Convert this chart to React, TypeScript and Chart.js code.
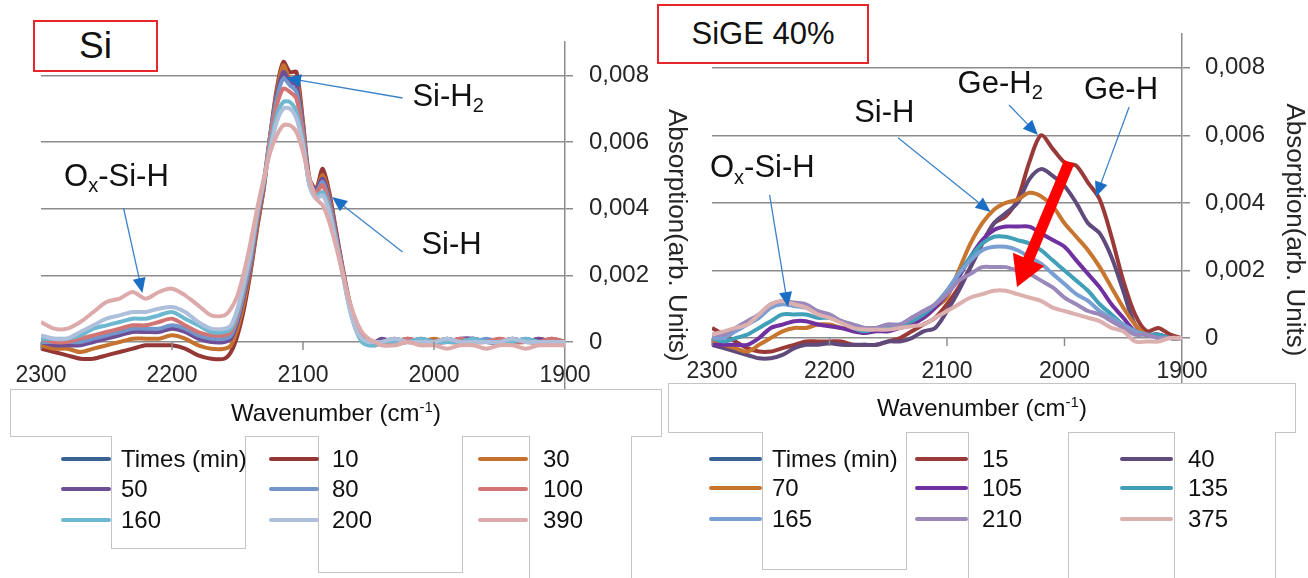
import React, { useEffect, useRef } from "react";
import { Chart, registerables } from "chart.js";
Chart.register(...registerables);

const FONT = '"Liberation Sans", Arial, Helvetica, sans-serif';
const GRID = "#8c8c8c";

// ---------- shared tick labels ----------
const Y_TICKS = [0, 0.002, 0.004, 0.006, 0.008];
const X_TICKS = [2300, 2200, 2100, 2000, 1900];

// ---------- Si panel ----------
const SI_WN = [
  2300, 2290, 2280, 2270, 2260, 2250, 2240, 2230, 2220, 2210, 2200, 2190, 2180, 2170, 2160,
  2155, 2150, 2145, 2140, 2135, 2130, 2125, 2120, 2115, 2110, 2105, 2100, 2095, 2090, 2085,
  2080, 2075, 2070, 2065, 2060, 2055, 2050, 2045,
  2040, 2030, 2020, 2010, 2000, 1990, 1980, 1970, 1960, 1950, 1940, 1930, 1920, 1910, 1900,
];
const SI_NAMES = ["Times (min)", "10", "30", "50", "80", "100", "160", "200", "390"];
const SI_COLORS = ["#3a6294", "#953735", "#c5722f", "#6e4e97", "#7396ca", "#d37474", "#6db8d0", "#aebfdb", "#dcaaaa"];
const SI_10 = [
  -0.0002, -0.0003, -0.0004, -0.0005, -0.0005, -0.0004, -0.0003, -0.0002, -0.0001, -0.0001, -0.0001, -0.0002, -0.0004, -0.0005, -0.0005,
  -0.0003, 0.0002, 0.001, 0.0021, 0.0034, 0.0046, 0.0062, 0.0076, 0.0084, 0.0081, 0.0081, 0.0066, 0.0049, 0.0046, 0.0052,
  0.0045, 0.0034, 0.0023, 0.0013, 0.0006, 0.0002, 0.0, -0.0001,
  0.0, 0.0, 0.0001, 0.0, 0.0, 0.0001, 0.0, 0.0001, 0.0, 0.0, 0.0001, 0.0, 0.0, 0.0001, 0.0,
];
const SI_30 = [
  -0.0001, -0.0002, -0.0002, -0.0003, -0.0002, -0.0001, 0.0, 0.0001, 0.0001, 0.0001, 0.0002, 0.0001, -0.0001, -0.0002, -0.0002,
  -0.0001, 0.0004, 0.0012, 0.0022, 0.0035, 0.0046, 0.0062, 0.0075, 0.0083, 0.0079, 0.0079, 0.0065, 0.0048, 0.0046, 0.005,
  0.0044, 0.0033, 0.0022, 0.0012, 0.0005, 0.0001, 0.0, -0.0001,
  0.0, 0.0001, 0.0, 0.0, 0.0001, 0.0, 0.0, 0.0001, 0.0, 0.0001, 0.0, 0.0, 0.0001, 0.0, 0.0,
];
const SI_50 = [
  0.0, -0.0001, -0.0001, -0.0001, 0.0, 0.0001, 0.0002, 0.0003, 0.0003, 0.0003, 0.0004, 0.0003, 0.0001, 0.0, 0.0,
  0.0001, 0.0006, 0.0014, 0.0023, 0.0036, 0.0047, 0.0062, 0.0074, 0.0081, 0.0078, 0.0077, 0.0064, 0.0048, 0.0046, 0.0049,
  0.0043, 0.0033, 0.0022, 0.0012, 0.0005, 0.0001, 0.0, 0.0,
  0.0001, 0.0, 0.0, 0.0001, 0.0, 0.0, 0.0001, 0.0001, 0.0, 0.0, 0.0001, 0.0, 0.0001, 0.0, 0.0,
];
const SI_80 = [
  0.0, 0.0, 0.0, 0.0, 0.0001, 0.0002, 0.0003, 0.0004, 0.0004, 0.0004, 0.0005, 0.0004, 0.0002, 0.0001, 0.0001,
  0.0002, 0.0007, 0.0015, 0.0024, 0.0037, 0.0048, 0.0062, 0.0073, 0.0079, 0.0077, 0.0075, 0.0063, 0.0048, 0.0045, 0.0048,
  0.0042, 0.0032, 0.0022, 0.0012, 0.0005, 0.0001, 0.0, 0.0,
  0.0, 0.0001, 0.0, 0.0, 0.0, 0.0001, 0.0, 0.0, 0.0001, 0.0, 0.0, 0.0001, 0.0, 0.0, 0.0,
];
const SI_100 = [
  0.0001, 0.0, 0.0, 0.0001, 0.0002, 0.0003, 0.0004, 0.0005, 0.0005, 0.0006, 0.0007, 0.0005, 0.0003, 0.0002, 0.0002,
  0.0003, 0.0008, 0.0016, 0.0025, 0.0037, 0.0048, 0.0061, 0.0071, 0.0076, 0.0075, 0.0073, 0.0062, 0.0047, 0.0045, 0.0047,
  0.0041, 0.0032, 0.0022, 0.0012, 0.0005, 0.0001, 0.0, 0.0,
  0.0, 0.0, 0.0001, 0.0, 0.0, 0.0, 0.0001, 0.0, 0.0, 0.0001, 0.0, 0.0, 0.0, 0.0001, 0.0,
];
const SI_160 = [
  0.0001, 0.0001, 0.0001, 0.0002, 0.0004, 0.0005, 0.0006, 0.0007, 0.0007, 0.0008, 0.0009, 0.0007, 0.0005, 0.0003, 0.0003,
  0.0004, 0.0009, 0.0017, 0.0026, 0.0038, 0.0048, 0.0059, 0.0068, 0.0072, 0.0072, 0.0069, 0.006, 0.0047, 0.0044, 0.0045,
  0.004, 0.0031, 0.0021, 0.0011, 0.0004, 0.0, -0.0001, -0.0001,
  0.0, 0.0, 0.0, 0.0001, 0.0, 0.0, 0.0, 0.0001, 0.0, 0.0, 0.0, 0.0001, 0.0, 0.0, 0.0,
];
const SI_200 = [
  0.0002, 0.0001, 0.0001, 0.0003, 0.0005, 0.0007, 0.0008, 0.0009, 0.0009, 0.001, 0.00105, 0.0009, 0.0006, 0.0004, 0.0004,
  0.0005, 0.001, 0.0018, 0.0027, 0.0039, 0.0048, 0.0058, 0.0066, 0.007, 0.007, 0.0067, 0.0059, 0.0047, 0.0043, 0.0044,
  0.0039, 0.003, 0.0021, 0.0011, 0.0004, 0.0001, 0.0, 0.0,
  0.0, 0.0001, 0.0, 0.0, 0.0, 0.0001, 0.0, 0.0, 0.0, 0.0, 0.0001, 0.0, 0.0, 0.0, 0.0,
];
const SI_390 = [
  0.0006, 0.0004, 0.0004, 0.0006, 0.0009, 0.0012, 0.0013, 0.0015, 0.0013, 0.0015, 0.0016, 0.0014, 0.0011, 0.0008, 0.0008,
  0.001, 0.0014, 0.0021, 0.003, 0.004, 0.0049, 0.0057, 0.0062, 0.0065, 0.0065, 0.0063, 0.0057, 0.0049, 0.0043, 0.0041,
  0.0036, 0.0029, 0.0021, 0.0013, 0.0007, 0.0003, 0.0001, 0.0,
  -0.0001, -0.0001, 0.0, -0.0001, -0.0001, -0.0002, -0.0001, -0.0001, -0.0002, -0.0001, -0.0001, -0.0002, -0.0001, -0.0001, -0.0001,
];
const SI_SERIES = [SI_10, SI_30, SI_50, SI_80, SI_100, SI_160, SI_200, SI_390];

// ---------- SiGe 40% panel ----------
const GE_WN = [
  2300, 2290, 2280, 2270, 2260, 2250, 2240, 2230, 2220, 2210,
  2200, 2190, 2180, 2170, 2160, 2150, 2140, 2130, 2120, 2110,
  2100, 2090, 2080, 2070, 2060, 2050, 2040, 2030, 2020, 2010,
  2000, 1990, 1980, 1970, 1960, 1950, 1940, 1930, 1920, 1910, 1900,
];
const GE_NAMES = ["Times (min)", "15", "40", "70", "105", "135", "165", "210", "375"];
const GE_COLORS = ["#3a6294", "#9a3a38", "#604a7b", "#c8752f", "#7030a0", "#40a0b8", "#7a9fd2", "#9a88ba", "#ddb0b0"];
const GE_15 = [
  0.0003, 0.0001, -0.0001, -0.0003, -0.0004, -0.0004, -0.0003, -0.0002, -0.0001, -0.0001,
  -0.0001, -0.0001, -0.0002, -0.0002, -0.0002, -0.0001, 0.0, 0.0002, 0.0004, 0.0006,
  0.001, 0.0015, 0.0021, 0.0028, 0.0034, 0.0036, 0.0041, 0.0052, 0.006, 0.0056,
  0.0052, 0.0051, 0.0046, 0.0041, 0.003, 0.0017, 0.0007, 0.0002, 0.0003, 0.0001, 0.0,
];
const GE_40 = [
  -0.0002, -0.0003, -0.0004, -0.0005, -0.0006, -0.0006, -0.0005, -0.0003, -0.0002, -0.0002,
  -0.00015, -0.0002, -0.0002, -0.0002, -0.0002, -0.0001, -0.0001, 0.0, 0.0002, 0.0003,
  0.0008, 0.0014, 0.0021, 0.0028, 0.0034, 0.0037, 0.004, 0.0047, 0.005, 0.0048,
  0.0045, 0.004, 0.0034, 0.0031, 0.0024, 0.0014, 0.0004, 0.0001, 0.0001, 0.0, 0.0,
];
const GE_70 = [
  -0.0001, -0.0002, -0.0003, -0.0004, -0.0002, 0.0, 0.0002, 0.0003, 0.0003, 0.0004,
  0.0004, 0.0003, 0.0003, 0.0003, 0.0003, 0.0003, 0.0004, 0.0005, 0.0006, 0.0009,
  0.0012, 0.002, 0.0028, 0.0034, 0.0038, 0.004, 0.0041, 0.0043, 0.0042, 0.0039,
  0.0034, 0.003, 0.0026, 0.0021, 0.0015, 0.0009, 0.0004, 0.0001, 0.0001, 0.0, 0.0,
];
const GE_105 = [
  -0.0002, -0.0002, -0.0002, -0.0002, 0.0, 0.0003, 0.0004, 0.0005, 0.0005, 0.0004,
  0.00035, 0.0003, 0.0002, 0.00015, 0.0002, 0.0002, 0.0003, 0.0004, 0.0006, 0.0009,
  0.0013, 0.0018, 0.0024, 0.0029, 0.0032, 0.0033, 0.0033, 0.0033, 0.0031, 0.0029,
  0.0027, 0.0023, 0.0019, 0.0015, 0.001, 0.0006, 0.0002, 0.0001, 0.0001, 0.0, 0.0,
];
const GE_135 = [
  0.0, -0.0001, 0.0, 0.0001, 0.0003, 0.0005, 0.0007, 0.0007, 0.0007, 0.0006,
  0.0006, 0.0005, 0.0003, 0.0002, 0.0003, 0.0003, 0.0004, 0.0005, 0.0007, 0.001,
  0.0014, 0.0019, 0.0024, 0.0028, 0.003, 0.003, 0.0029, 0.0028, 0.0026, 0.0023,
  0.002, 0.0017, 0.0014, 0.001, 0.0007, 0.0004, 0.0002, 0.0001, 0.0001, 0.0, 0.0,
];
const GE_165 = [
  0.0, 0.0, 0.0002, 0.0004, 0.0006, 0.0009, 0.001, 0.00095, 0.0009, 0.0008,
  0.00065, 0.0005, 0.0004, 0.0003, 0.0003, 0.0004, 0.0004, 0.0006, 0.0008, 0.001,
  0.0014, 0.0019, 0.0023, 0.0026, 0.0027, 0.0027, 0.0026, 0.0024, 0.0022, 0.0019,
  0.0016, 0.0013, 0.0011, 0.0008, 0.0006, 0.0004, 0.0002, 0.0001, 0.0, 0.0, 0.0,
];
const GE_210 = [
  0.0001, 0.0001, 0.0003, 0.0005, 0.0007, 0.001, 0.0011, 0.00105, 0.001, 0.0008,
  0.0007, 0.0005, 0.0004, 0.0003, 0.0003, 0.0004, 0.0004, 0.0006, 0.0008, 0.001,
  0.0013, 0.0017, 0.0019, 0.0021, 0.0021, 0.0021, 0.002, 0.0019, 0.0017, 0.0015,
  0.0012, 0.001, 0.0008, 0.0007, 0.0005, 0.0003, 0.0001, 0.0001, 0.0, 0.0, 0.0,
];
const GE_375 = [
  0.0001, 0.0002, 0.0003, 0.0004, 0.0007, 0.001, 0.0011, 0.001, 0.0009, 0.0007,
  0.0006, 0.00045, 0.0003, 0.00025, 0.00025, 0.00025, 0.0003, 0.00035, 0.0004, 0.0006,
  0.0008, 0.001, 0.0012, 0.0013, 0.0014, 0.0014, 0.0013, 0.0012, 0.0011, 0.0009,
  0.0008, 0.0007, 0.0006, 0.0005, 0.0003, 0.0002, -0.0001, -0.0001, -0.0001, 0.0, 0.0,
];
const GE_SERIES = [GE_15, GE_40, GE_70, GE_105, GE_135, GE_165, GE_210, GE_375];

// ---------- annotations (data coordinates) ----------
type Part = { t: string; sub?: boolean };
type Notes = {
  labels: { wn: number; v: number; parts: Part[] }[];
  arrows: { a: [number, number]; b: [number, number] }[];
  big?: { a: [number, number]; b: [number, number] };
};

const SI_NOTES: Notes = {
  labels: [
    { wn: 2016.5, v: 0.00735, parts: [{ t: "Si-H" }, { t: "2", sub: true }] },
    { wn: 2009.6, v: 0.0029, parts: [{ t: "Si-H" }] },
    { wn: 2282.4, v: 0.00495, parts: [{ t: "O" }, { t: "x", sub: true }, { t: "-Si-H" }] },
  ],
  arrows: [
    { a: [2024, 0.00732], b: [2113, 0.00792] },
    { a: [2024, 0.0027], b: [2077.8, 0.00435] },
    { a: [2237, 0.00402], b: [2222.6, 0.00147] },
  ],
};

const GE_NOTES: Notes = {
  labels: [
    { wn: 2301.7, v: 0.00501, parts: [{ t: "O" }, { t: "x", sub: true }, { t: "-Si-H" }] },
    { wn: 2179, v: 0.00665, parts: [{ t: "Si-H" }] },
    { wn: 2091, v: 0.0075, parts: [{ t: "Ge-H" }, { t: "2", sub: true }] },
    { wn: 1983.4, v: 0.00732, parts: [{ t: "Ge-H" }] },
  ],
  arrows: [
    { a: [2251, 0.00424], b: [2235.3, 0.00092] },
    { a: [2141.7, 0.00593], b: [2062.9, 0.00373] },
    { a: [2047.2, 0.0069], b: [2022.6, 0.00601] },
    { a: [1945, 0.00684], b: [1973.2, 0.00418] },
  ],
  big: { a: [1996, 0.00521], b: [2040.4, 0.00151] },
};

const fmtY = (v: number) => (v === 0 ? "0" : v.toFixed(3).replace(".", ","));

function drawRich(ctx: CanvasRenderingContext2D, parts: Part[], x: number, y: number, size: number) {
  let cx = x;
  for (const p of parts) {
    const s = p.sub ? Math.round(size * 0.66) : size;
    ctx.font = `${s}px ${FONT}`;
    ctx.fillText(p.t, cx, p.sub ? y + size * 0.3 : y);
    cx += ctx.measureText(p.t).width;
  }
}

function arrow(ctx: CanvasRenderingContext2D, x1: number, y1: number, x2: number, y2: number, lw: number, hl: number, hw: number, lineCol: string, headCol: string) {
  const ang = Math.atan2(y2 - y1, x2 - x1);
  const bx = x2 - Math.cos(ang) * hl;
  const by = y2 - Math.sin(ang) * hl;
  ctx.strokeStyle = lineCol;
  ctx.lineWidth = lw;
  ctx.lineCap = "butt";
  ctx.beginPath();
  ctx.moveTo(x1, y1);
  ctx.lineTo(bx + Math.cos(ang) * 2, by + Math.sin(ang) * 2);
  ctx.stroke();
  ctx.fillStyle = headCol;
  ctx.beginPath();
  ctx.moveTo(x2, y2);
  ctx.lineTo(bx + Math.cos(ang + Math.PI / 2) * hw, by + Math.sin(ang + Math.PI / 2) * hw);
  ctx.lineTo(bx + Math.cos(ang - Math.PI / 2) * hw, by + Math.sin(ang - Math.PI / 2) * hw);
  ctx.closePath();
  ctx.fill();
}

function makeOverlay(notes: Notes, titleDx: number, titleV: number) {
  return {
    id: "overlay",
    afterDraw(chart: any) {
      const { ctx, chartArea } = chart;
      const xs = chart.scales.x;
      const ys = chart.scales.y;
      const y0 = ys.getPixelForValue(0);
      ctx.save();
      ctx.strokeStyle = GRID;
      ctx.lineWidth = 1.5;
      for (const t of X_TICKS) {
        if (t === 1900) continue;
        const px = xs.getPixelForValue(t);
        ctx.beginPath();
        ctx.moveTo(px, y0);
        ctx.lineTo(px, y0 + 8);
        ctx.stroke();
      }
      ctx.fillStyle = "#262626";
      ctx.font = `23px ${FONT}`;
      ctx.textAlign = "center";
      ctx.textBaseline = "middle";
      for (const t of X_TICKS) ctx.fillText(String(t), xs.getPixelForValue(t), y0 + 34);
      ctx.save();
      ctx.translate(chartArea.right + titleDx, ys.getPixelForValue(titleV));
      ctx.rotate(Math.PI / 2);
      ctx.font = `26px ${FONT}`;
      ctx.fillStyle = "#262626";
      ctx.fillText("Absorption(arb. Units)", 0, 0);
      ctx.restore();
      for (const a of notes.arrows) {
        arrow(ctx, xs.getPixelForValue(a.a[0]), ys.getPixelForValue(a.a[1]), xs.getPixelForValue(a.b[0]), ys.getPixelForValue(a.b[1]), 1.3, 15, 6.5, "#3b83c9", "#1a6fc4");
      }
      if (notes.big) {
        const b = notes.big;
        arrow(ctx, xs.getPixelForValue(b.a[0]), ys.getPixelForValue(b.a[1]), xs.getPixelForValue(b.b[0]), ys.getPixelForValue(b.b[1]), 11, 30, 17, "#ff0000", "#ff0000");
      }
      ctx.fillStyle = "#111111";
      ctx.textAlign = "left";
      ctx.textBaseline = "middle";
      for (const l of notes.labels) drawRich(ctx, l.parts, xs.getPixelForValue(l.wn), ys.getPixelForValue(l.v), 31);
      ctx.restore();
    },
  };
}

type PanelProps = {
  left: number; width: number; height: number;
  pad: { left: number; top: number; right: number; bottom: number };
  axisW: number; yMin: number; labelPad: number;
  wn: number[]; names: string[]; colors: string[]; series: number[][];
  notes: Notes; titleDx: number; titleV: number;
};

function Panel(p: PanelProps) {
  const ref = useRef<HTMLCanvasElement>(null);
  useEffect(() => {
    const chart = new Chart(ref.current as HTMLCanvasElement, {
      type: "line",
      data: {
        datasets: p.series.map((arr, i) => ({
          label: p.names[i + 1],
          data: p.wn.map((x, j) => ({ x, y: arr[j] })),
          borderColor: p.colors[i + 1],
          backgroundColor: p.colors[i + 1],
          borderWidth: 4,
          pointRadius: 0,
          tension: 0.3,
          fill: false,
          order: -i,
        })),
      },
      options: {
        responsive: false,
        animation: false,
        events: [],
        layout: { padding: p.pad },
        plugins: { legend: { display: false }, tooltip: { enabled: false } },
        scales: {
          x: { type: "linear", reverse: true, min: 1900, max: 2300, display: false },
          y: {
            position: "right",
            min: p.yMin,
            max: 0.009,
            afterBuildTicks: (s: any) => {
              s.ticks = Y_TICKS.map((v) => ({ value: v }));
            },
            afterFit: (s: any) => {
              s.width = p.axisW;
              s.paddingTop = 0;
              s.paddingBottom = 0;
            },
            grid: { color: GRID, lineWidth: 1.5, tickLength: 8 },
            border: { display: true, color: GRID, width: 1.5 },
            ticks: {
              color: "#262626",
              font: { family: FONT, size: 24 },
              padding: p.labelPad,
              callback: (v: any) => fmtY(Number(v)),
            },
          },
        },
      } as any,
      plugins: [makeOverlay(p.notes, p.titleDx, p.titleV)],
    });
    return () => chart.destroy();
  }, []);
  return (
    <canvas
      ref={ref}
      width={p.width}
      height={p.height}
      style={{ position: "absolute", left: p.left, top: 0, width: p.width, height: p.height }}
    />
  );
}

type LegendProps = { names: string[]; colors: string[]; lineX: number[]; lineW: number; textX: number[]; rowY: number[] };
function Legend({ names, colors, lineX, lineW, textX, rowY }: LegendProps) {
  return (
    <>
      {names.map((n, i) => {
        const r = Math.floor(i / 3);
        const c = i % 3;
        return (
          <React.Fragment key={n + i}>
            <div style={{ position: "absolute", left: lineX[c], top: rowY[r] - 2, width: lineW, height: 4, borderRadius: 2, background: colors[i] }} />
            <div style={{ position: "absolute", left: textX[c], top: rowY[r] - 15, height: 30, lineHeight: "30px", fontSize: 24, fontFamily: FONT, color: "#111", whiteSpace: "nowrap" }}>
              {n}
            </div>
          </React.Fragment>
        );
      })}
    </>
  );
}

const boxBorder = "1px solid #c4c4c4";
function OpenBox({ x1, x2, top, bottom }: { x1: number; x2: number; top: number; bottom: number }) {
  return (
    <div style={{ position: "absolute", left: x1, top, width: x2 - x1, height: bottom - top, boxSizing: "border-box", border: boxBorder, borderTop: "none", background: "#fff" }} />
  );
}

function AxisBox({ x1, x2, top, bottom }: { x1: number; x2: number; top: number; bottom: number }) {
  return (
    <div style={{ position: "absolute", left: x1, top, width: x2 - x1, height: bottom - top, boxSizing: "border-box", border: boxBorder, display: "flex", alignItems: "center", justifyContent: "center", fontFamily: FONT, fontSize: 24, color: "#111" }}>
      <span>
        Wavenumber (cm<sup style={{ fontSize: 15, verticalAlign: "9px", lineHeight: 0 }}>-1</sup>)
      </span>
    </div>
  );
}

export default function App() {
  return (
    <div style={{ position: "absolute", left: 0, top: 0, width: 1308, height: 578, overflow: "hidden", background: "#fff" }}>
      <Panel
        left={0} width={700} height={392}
        pad={{ left: 41, top: 42, right: 0, bottom: 3 }}
        axisW={135} yMin={-0.00141} labelPad={16}
        wn={SI_WN} names={SI_NAMES} colors={SI_COLORS} series={SI_SERIES}
        notes={SI_NOTES} titleDx={111} titleV={0.0032}
      />
      <Panel
        left={660} width={648} height={392}
        pad={{ left: 52, top: 34, right: 0, bottom: 9 }}
        axisW={126} yMin={-0.00133} labelPad={15}
        wn={GE_WN} names={GE_NAMES} colors={GE_COLORS} series={GE_SERIES}
        notes={GE_NOTES} titleDx={112} titleV={0.0032}
      />

      <AxisBox x1={10} x2={662} top={389} bottom={437} />
      <AxisBox x1={668} x2={1296} top={383} bottom={433} />

      <OpenBox x1={111} x2={246} top={436} bottom={549} />
      <OpenBox x1={318} x2={463} top={436} bottom={573} />
      <OpenBox x1={529} x2={632} top={436} bottom={600} />
      <OpenBox x1={762} x2={907} top={432} bottom={570} />
      <OpenBox x1={968} x2={1069} top={432} bottom={600} />
      <OpenBox x1={1174} x2={1276} top={432} bottom={600} />

      <Legend names={SI_NAMES} colors={SI_COLORS} lineX={[61, 269, 478]} lineW={50} textX={[121, 332, 543]} rowY={[459, 489, 520]} />
      <Legend names={GE_NAMES} colors={GE_COLORS} lineX={[709, 915, 1120]} lineW={53} textX={[772, 982, 1188]} rowY={[459, 488, 519]} />

      <div style={{ position: "absolute", left: 33, top: 20, width: 125, height: 52, boxSizing: "border-box", border: "2px solid #e8262a", display: "flex", alignItems: "center", justifyContent: "center", fontFamily: FONT, fontSize: 37, color: "#111", background: "#fff" }}>
        Si
      </div>
      <div style={{ position: "absolute", left: 657, top: 4, width: 212, height: 60, boxSizing: "border-box", border: "2px solid #e8262a", display: "flex", alignItems: "center", justifyContent: "center", fontFamily: FONT, fontSize: 31, color: "#111", background: "#fff" }}>
        SiGE 40%
      </div>
    </div>
  );
}
